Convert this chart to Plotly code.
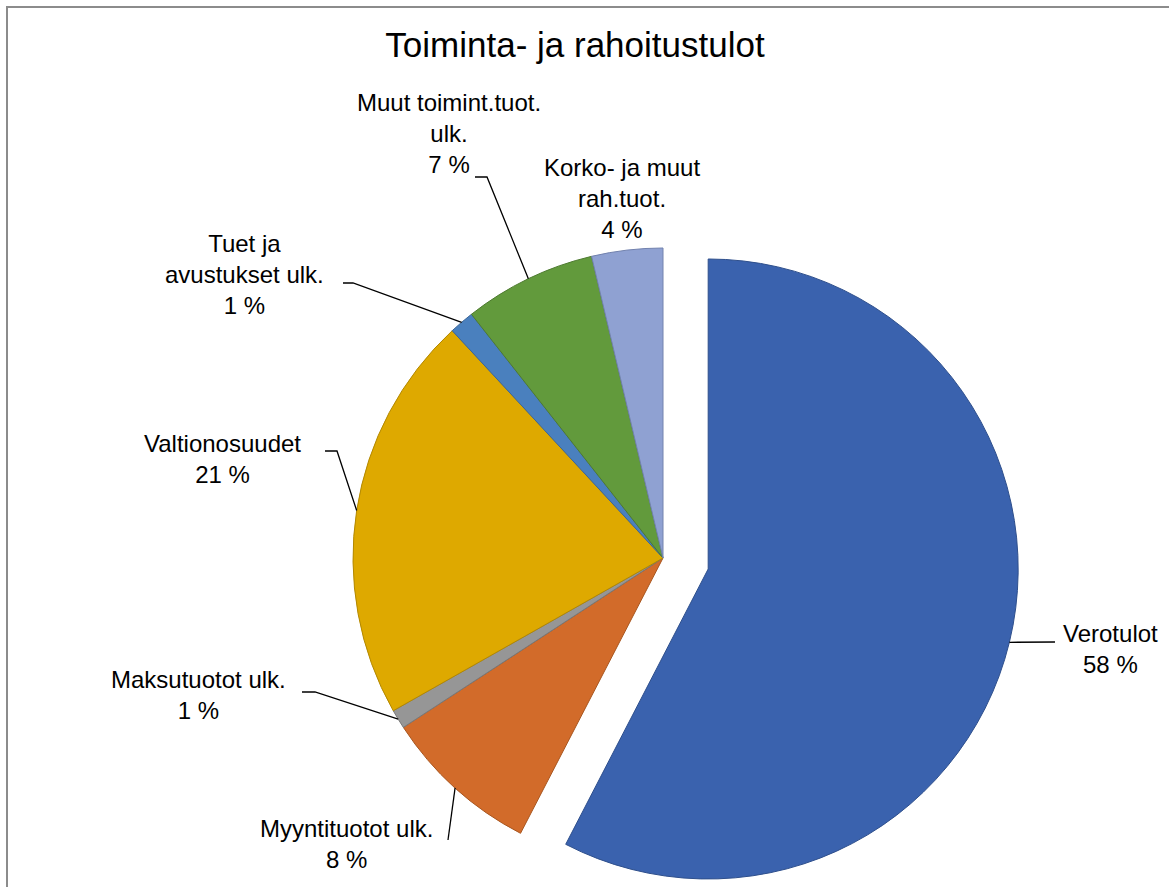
import math
import plotly.graph_objects as go

# ---- data ----
labels = ["Verotulot", "Myyntituotot ulk.", "Maksutuotot ulk.", "Valtionosuudet",
          "Tuet ja avustukset ulk.", "Muut toimint.tuot. ulk.", "Korko- ja muut rah.tuot."]
label_text = ["Verotulot", "Myyntituotot ulk.", "Maksutuotot ulk.", "Valtionosuudet",
              "Tuet ja<br>avustukset ulk.", "Muut toimint.tuot.<br>ulk.", "Korko- ja muut<br>rah.tuot."]
shares = [57.6, 8.2, 1.0, 21.3, 1.3, 6.9, 3.7]
title_text = "Toiminta- ja rahoitustulot"

# ---- style / layout ----
colors = ["#3A62AE", "#D26B2A", "#969696", "#DEA900", "#4A80BE", "#629A3C", "#8FA1D2"]
edge_colors = ["#2E4F8C", "#A8561F", "#787878", "#B38800", "#3B6698", "#4E7B30", "#7282AE"]
W, H = 1169, 887
CX, CY, R = 663, 558, 310
PULL = 0.15
exploded = 0
FONT = "Liberation Sans, Arial, sans-serif"

# label block centres (px) and leader polylines starting at the label side (px)
label_pos = [(1110, 649), (346, 844), (198, 695), (222, 459), (245, 274), (449, 133), (622, 199)]
leader_start = [[(1055, 642)], [(448, 840)], [(302, 692), (315, 692)], [(325, 451), (337, 451)],
                [(343, 283), (353, 283)], [(475, 177), (487, 177)], None]


def px(x):
    return x / W


def py(y):
    return 1 - y / H


total = sum(shares)
cum = 0
mids = []
for s in shares:
    mids.append((cum + s / 2) / total * 360)
    cum += s

# pulled-out slice offset along its mid angle
ma = math.radians(mids[exploded])
OX, OY = PULL * R * math.sin(ma), -PULL * R * math.cos(ma)


def domain(cx, cy):
    return dict(x=[px(cx - R), px(cx + R)], y=[py(cy + R), py(cy - R)])


def pie_trace(show_idx, cx, cy):
    fill = [c if i in show_idx else "rgba(0,0,0,0)" for i, c in enumerate(colors)]
    lc = [c if i in show_idx else "rgba(0,0,0,0)" for i, c in enumerate(edge_colors)]
    lw = [1 if i in show_idx else 0 for i in range(len(colors))]
    return go.Pie(labels=labels, values=shares, sort=False, direction="clockwise", rotation=0,
                  marker=dict(colors=fill, line=dict(color=lc, width=lw)),
                  textinfo="none", hoverinfo="skip", showlegend=False,
                  domain=domain(cx, cy))


rest = [i for i in range(len(shares)) if i != exploded]
fig = go.Figure([pie_trace(rest, CX, CY), pie_trace([exploded], CX + OX, CY + OY)])

annotations = []
shapes = []
for i, lab in enumerate(label_text):
    pct = round(shares[i] / total * 100)
    lx, ly = label_pos[i]
    annotations.append(dict(text=f"{lab}<br>{pct} %", x=px(lx), y=py(ly), xref="paper", yref="paper",
                            xanchor="center", yanchor="middle", showarrow=False, align="center",
                            font=dict(family=FONT, size=24, color="#000000")))
    if leader_start[i]:
        cx, cy = (CX + OX, CY + OY) if i == exploded else (CX, CY)
        a = math.radians(mids[i])
        ex, ey = cx + R * math.sin(a), cy - R * math.cos(a)
        pts = leader_start[i] + [(ex, ey)]
        path = "M " + " L ".join(f"{px(x):.5f},{py(y):.5f}" for x, y in pts)
        shapes.append(dict(type="path", path=path, xref="paper", yref="paper",
                           line=dict(color="#000000", width=1.3)))

# chart area border
shapes.append(dict(type="rect", xref="paper", yref="paper", x0=px(7), y0=py(7), x1=1.05, y1=-0.05,
                   line=dict(color="#8C8C8C", width=2), fillcolor="rgba(0,0,0,0)"))

fig.update_layout(
    width=W, height=H, autosize=False,
    margin=dict(l=0, r=0, t=0, b=0),
    paper_bgcolor="white", plot_bgcolor="white",
    title=dict(text=title_text, x=px(575), y=py(45), xanchor="center", yanchor="middle",
               font=dict(family=FONT, size=35, color="#000000")),
    annotations=annotations, shapes=shapes,
)

fig.write_html("out.html", config={"displayModeBar": False},
               post_script="document.body.style.margin='0';")
